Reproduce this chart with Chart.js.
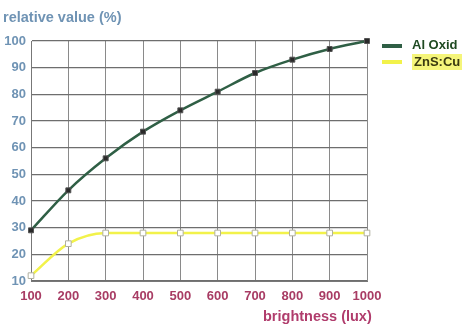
<!DOCTYPE html>
<html>
<head>
<meta charset="utf-8">
<script src="https://cdn.jsdelivr.net/npm/chart.js@4"></script>
<style>
  body { margin: 0; background: #fff; }
  #wrap { position: relative; width: 471px; height: 332px; }
  .lbl { position: absolute; font-family: "Liberation Sans", Arial, sans-serif; font-weight: bold; font-size: 13px; white-space: nowrap; line-height: 16px; }
  .big { font-size: 14.5px; line-height: 17px; }
  .key { position: absolute; height: 4px; width: 20px; }
</style>
</head>
<body>
<div id="wrap">
  <canvas id="myChart" width="471" height="332"></canvas>
  <div class="lbl big" style="left:3px;top:9px;color:#6f93b4;">relative value (%)</div>
  <div class="lbl big" style="left:263px;top:308px;color:#b03c6c;">brightness (lux)</div>
  <div class="key" style="left:382px;top:44px;background:#2f5f45;"></div>
  <div class="lbl" style="left:412px;top:37px;color:#1f4a22;">Al Oxid</div>
  <div class="key" style="left:382px;top:60px;background:#f2f24a;"></div>
  <div class="lbl" style="left:412px;top:54px;color:#3a3a10;background:#f5f57a;padding:0 2px;">ZnS:Cu</div>
</div>
<script>
const brightness = [100, 200, 300, 400, 500, 600, 700, 800, 900, 1000];
const alOxid = [29, 44, 56, 66, 74, 81, 88, 93, 97, 100];
const znsCu = [12, 24, 28, 28, 28, 28, 28, 28, 28, 28];

function puntos(valores) {
    return brightness.map((b, i) => { return { x: b, y: valores[i] } });
}

const ctx = document.getElementById('myChart').getContext('2d');
const myChart = new Chart(ctx, {
    type: 'line',
    data: {
        datasets: [{
            label: 'Al Oxid',
            data: puntos(alOxid),
            borderColor: '#2f5f45',
            borderWidth: 2.5,
            pointStyle: 'rect',
            pointRadius: 3.5,
            pointBackgroundColor: '#2a2a2a',
            pointBorderColor: '#555',
            pointBorderWidth: 1,
            cubicInterpolationMode: 'monotone',
            clip: false
        }, {
            label: 'ZnS:Cu',
            data: puntos(znsCu),
            borderColor: '#f2f24a',
            borderWidth: 2.5,
            pointStyle: 'rect',
            pointRadius: 4,
            pointBackgroundColor: '#ffffff',
            pointBorderColor: '#b0b0a0',
            pointBorderWidth: 1,
            cubicInterpolationMode: 'monotone',
            clip: false
        }]
    },
    options: {
        responsive: false,
        animation: false,
        layout: { padding: { left: 0, top: 41, right: 104, bottom: 21 } },
        plugins: { legend: { display: false }, tooltip: { enabled: false } },
        scales: {
            x: {
                type: 'linear',
                min: 100,
                max: 1000,
                afterFit: function (scale) { scale.height = 30; },
                ticks: {
                    stepSize: 100,
                    autoSkip: false,
                    minRotation: 0,
                    maxRotation: 0,
                    callback: function (v) { return String(v); },
                    color: '#a83c64',
                    font: { family: 'Liberation Sans', size: 13, weight: 'bold' },
                    padding: 8
                },
                grid: { color: '#8a8a8a', lineWidth: 1, tickLength: 0 },
                border: { color: '#777', width: 1 }
            },
            y: {
                min: 10,
                max: 100,
                afterFit: function (scale) { scale.width = 31; },
                ticks: {
                    stepSize: 10,
                    color: '#6f93b4',
                    font: { family: 'Liberation Sans', size: 13, weight: 'bold' },
                    padding: 5
                },
                grid: { color: '#6e6e6e', lineWidth: 1.3, tickLength: 0 },
                border: { color: '#777', width: 1 }
            }
        }
    }
});
</script>
</body>
</html>
